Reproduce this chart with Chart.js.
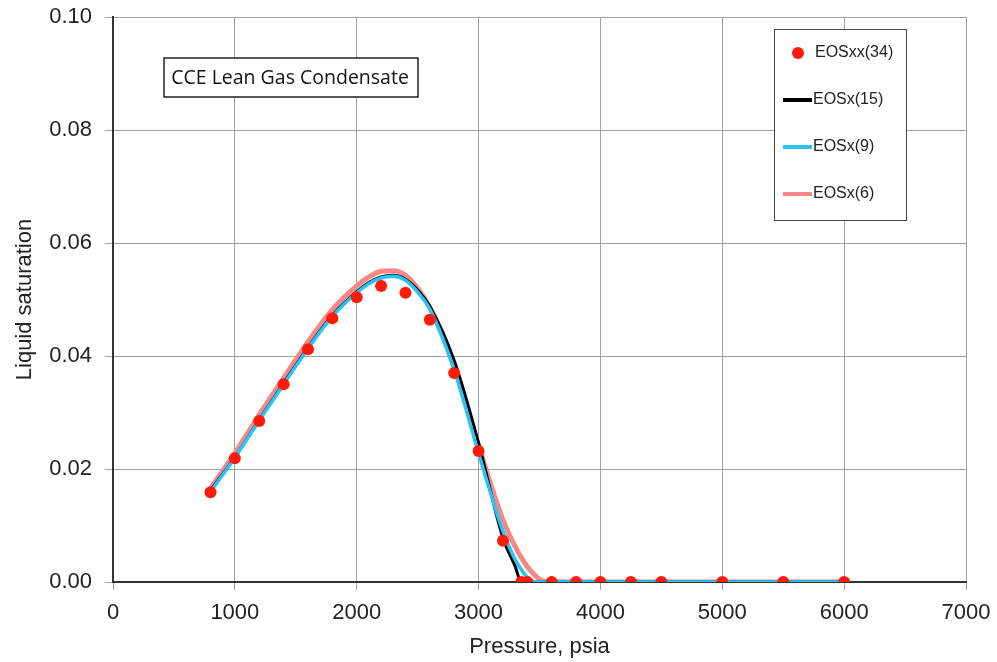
<!DOCTYPE html>
<html>
<head>
<meta charset="utf-8">
<script src="https://cdn.jsdelivr.net/npm/chart.js@4/dist/chart.umd.min.js"></script>
<style>
  html, body { margin: 0; padding: 0; background: #fff; }
  #wrap { width: 997px; height: 662px; position: relative; }
</style>
</head>
<body>
<div id="wrap"><canvas id="myChart"></canvas></div>
<script>
// Measured points, EOSxx(34)
const ptPressure = [800, 1000, 1200, 1400, 1600, 1800, 2000, 2200, 2400, 2600, 2800, 3000, 3200, 3350, 3400, 3600, 3800, 4000, 4250, 4500, 5000, 5500, 6000];
const ptSat = [0.0159, 0.0219, 0.0285, 0.0350, 0.0412, 0.0467, 0.0504, 0.0524, 0.0512, 0.0464, 0.0370, 0.0232, 0.0073, 0, 0, 0, 0, 0, 0, 0, 0, 0, 0];

// EOSx(15) curve
const eos15P = [800, 1000, 1200, 1400, 1600, 1800, 2000, 2100, 2200, 2300, 2400, 2500, 2600, 2800, 3000, 3200, 3300, 3350, 3400, 6000];
const eos15S = [0.0162, 0.0221, 0.0287, 0.0352, 0.0415, 0.0472, 0.0514, 0.0530, 0.0540, 0.0543, 0.0536, 0.0517, 0.0488, 0.0392, 0.0246, 0.0078, 0.0028, 0, 0, 0];

// EOSx(9) curve
const eos9P = [800, 1000, 1200, 1400, 1600, 1800, 2000, 2100, 2200, 2300, 2400, 2500, 2600, 2800, 3000, 3200, 3300, 3400, 3450, 6000];
const eos9S = [0.0160, 0.0220, 0.0286, 0.0350, 0.0413, 0.0470, 0.0512, 0.0528, 0.0538, 0.0541, 0.0534, 0.0513, 0.0483, 0.0375, 0.0228, 0.0090, 0.0040, 0.0008, 0, 0];

// EOSx(6) curve
const eos6P = [800, 1000, 1200, 1400, 1600, 1800, 2000, 2100, 2200, 2300, 2400, 2500, 2600, 2800, 3000, 3200, 3300, 3400, 3500, 3550, 6000];
const eos6S = [0.0166, 0.0228, 0.0296, 0.0361, 0.0425, 0.0482, 0.0524, 0.0540, 0.0550, 0.0551, 0.0543, 0.0520, 0.0486, 0.0383, 0.0241, 0.0110, 0.0063, 0.0027, 0.0005, 0, 0];

const legendLabels = ['EOSxx(34)', 'EOSx(15)', 'EOSx(9)', 'EOSx(6)'];
const noteText = 'CCE Lean Gas Condensate';

function toXY(xs, ys) {
    return xs.map((x, i) => ({ x: x, y: ys[i] }));
}

const FONT = "'Liberation Sans', Arial, sans-serif";
const TEXT = '#222';

// legend box and annotation drawn on top of the plot
const boxPlugin = {
    id: 'boxes',
    afterDraw(chart) {
        const ctx = chart.ctx;
        ctx.save();
        // annotation
        ctx.font = "19.5px 'Open Sans', sans-serif";
        ctx.fillStyle = '#fff';
        ctx.fillRect(164, 58, 254, 39);
        ctx.strokeStyle = '#222';
        ctx.lineWidth = 1.5;
        ctx.strokeRect(164, 58, 254, 39);
        ctx.fillStyle = '#111';
        ctx.textBaseline = 'middle';
        ctx.textAlign = 'center';
        ctx.fillText(noteText, 290, 78);

        // legend
        ctx.fillStyle = '#fff';
        ctx.fillRect(774, 29, 132, 191);
        ctx.strokeStyle = '#444';
        ctx.lineWidth = 1;
        ctx.strokeRect(774.5, 29.5, 132, 191);
        ctx.font = '16px ' + FONT;
        ctx.textAlign = 'left';
        const ds = chart.data.datasets;
        const rowY = [53, 100, 147, 194];
        // dot entry
        ctx.fillStyle = ds[0].pointBackgroundColor;
        ctx.beginPath();
        ctx.arc(798, rowY[0], 6, 0, Math.PI * 2);
        ctx.fill();
        ctx.fillStyle = TEXT;
        ctx.fillText(legendLabels[0], 815, rowY[0]);
        // line entries
        const lineOrder = [3, 2, 1]; // datasets for EOSx(15), EOSx(9), EOSx(6)
        for (let i = 1; i < 4; i++) {
            const d = ds[lineOrder[i - 1]];
            ctx.strokeStyle = d.borderColor;
            ctx.lineWidth = 4;
            ctx.beginPath();
            ctx.moveTo(783, rowY[i]);
            ctx.lineTo(812, rowY[i]);
            ctx.stroke();
            ctx.fillStyle = TEXT;
            ctx.fillText(legendLabels[i], 813, rowY[i]);
        }
        ctx.restore();
    }
};

new Chart(document.getElementById('myChart'), {
    type: 'scatter',
    data: {
        datasets: [
            {
                label: legendLabels[0],
                data: toXY(ptPressure, ptSat),
                showLine: false,
                pointRadius: 6,
                pointBackgroundColor: '#ff1a0a',
                pointBorderWidth: 0,
                order: 0
            },
            {
                label: legendLabels[3],
                data: toXY(eos6P, eos6S),
                showLine: true,
                borderColor: '#f78888',
                borderWidth: 5,
                pointRadius: 0,
                cubicInterpolationMode: 'monotone',
                order: 3
            },
            {
                label: legendLabels[2],
                data: toXY(eos9P, eos9S),
                showLine: true,
                borderColor: '#29c3f5',
                borderWidth: 3.5,
                pointRadius: 0,
                cubicInterpolationMode: 'monotone',
                order: 1
            },
            {
                label: legendLabels[1],
                data: toXY(eos15P, eos15S),
                showLine: true,
                borderColor: '#000000',
                borderWidth: 3,
                pointRadius: 0,
                cubicInterpolationMode: 'monotone',
                order: 2
            }
        ]
    },
    options: {
        responsive: true,
        maintainAspectRatio: false,
        animation: false,
        events: [],
        layout: { padding: { top: 17, right: 31, left: 0, bottom: 0 } },
        plugins: {
            legend: { display: false },
            tooltip: { enabled: false }
        },
        scales: {
            x: {
                type: 'linear',
                min: 0,
                max: 7000,
                afterFit: s => {
                    s.height = 80;
                    s.paddingLeft = 0;
                    s.paddingRight = 0;
                },
                ticks: {
                    stepSize: 1000,
                    color: TEXT,
                    padding: 10,
                    font: { family: FONT, size: 22 },
                    callback: v => String(v)
                },
                grid: { color: '#a0a0a0', lineWidth: 1, tickLength: 8 },
                border: { color: '#333', width: 2 },
                title: {
                    display: true,
                    text: 'Pressure, psia',
                    color: TEXT,
                    font: { family: FONT, size: 22 },
                    padding: { top: 2, bottom: 2 }
                }
            },
            y: {
                min: 0,
                max: 0.1,
                afterFit: s => {
                    s.width = 113;
                    s.paddingTop = 0;
                    s.paddingBottom = 0;
                },
                ticks: {
                    stepSize: 0.02,
                    color: TEXT,
                    padding: 13,
                    font: { family: FONT, size: 22 },
                    callback: v => v.toFixed(2)
                },
                grid: { color: '#a0a0a0', lineWidth: 1, tickLength: 8 },
                border: { color: '#333', width: 2 },
                title: {
                    display: true,
                    text: 'Liquid saturation',
                    color: TEXT,
                    font: { family: FONT, size: 22 },
                    padding: { top: 12, bottom: 0 }
                }
            }
        }
    },
    plugins: [boxPlugin]
});
</script>
</body>
</html>
